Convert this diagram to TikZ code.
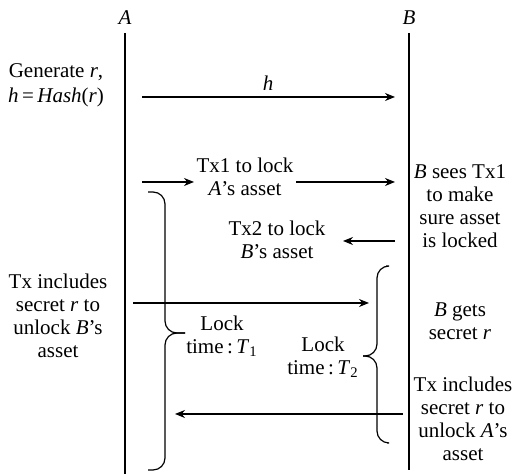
\documentclass[tikz,border=0pt]{standalone}
\usepackage{fontspec}
\setmainfont{Liberation Serif}
\usetikzlibrary{arrows.meta}

\begin{document}
\begin{tikzpicture}[x=0.5pt, y=-0.5pt, line width=0.6pt,
    msg/.style={-{Stealth[length=5pt, width=4pt]}},
    lbl/.style={align=center, inner sep=1pt, font=\fontsize{10.5}{11.5}\selectfont}]
    \useasboundingbox (0,0) rectangle (521,474);

    % Parties and lifelines
    \node[lbl] (A) at (125,18) {\textit{A}};
    \node[lbl] (B) at (409,18) {\textit{B}};
    \coordinate (Atop) at (125,33);
    \coordinate (Btop) at (409,33);
    \coordinate (Aend) at (125,474);
    \coordinate (Bend) at (409,470);
    \draw (Atop) -- (Aend);
    \draw (Btop) -- (Bend);

    % Side notes
    \node[lbl] (gen) at (56,85) {Generate \textit{r},\\[1pt] \textit{h}\,=\,\textit{Hash}(\textit{r})};
    \node[lbl] (sees) at (460,206) {\textit{B} sees Tx1\\ to make\\ sure asset\\ is locked};
    \node[lbl] (txA) at (58,316) {Tx includes\\ secret \textit{r} to\\ unlock \textit{B}'s\\ asset};
    \node[lbl] (gets) at (460,321) {\textit{B} gets\\ secret \textit{r}};
    \node[lbl] (txB) at (463,419) {Tx includes\\ secret \textit{r} to\\ unlock \textit{A}'s\\ asset};

    % Message texts
    \node[lbl] (hlbl) at (268,83) {\textit{h}};
    \node[lbl] (tx1) at (245,177) {Tx1 to lock\\ \textit{A}'s asset};
    \node[lbl] (tx2) at (277,240) {Tx2 to lock\\ \textit{B}'s asset};
    \node[lbl] (lock1) at (222,336) {Lock\\ time\,:\,\textit{T}\textsubscript{1}};
    \node[lbl] (lock2) at (323,357) {Lock\\ time\,:\,\textit{T}\textsubscript{2}};

    % Ends of the messages
    \coordinate (a1) at (142,97);  \coordinate (b1) at (395,97);
    \coordinate (a2) at (142,182); \coordinate (b2) at (395,182);
    \coordinate (b3) at (395,241); \coordinate (m3) at (343,241);
    \coordinate (a4) at (133,303); \coordinate (b4) at (369,303);
    \coordinate (b5) at (403,414); \coordinate (a5) at (175,414);

    % Messages
    \draw[msg] (a1) -- (b1);
    \draw[msg] (a2) -- (a2 -| tx1.west);
    \draw[msg] (b2 -| tx1.east) -- (b2);
    \draw[msg] (b3) -- (m3);
    \draw[msg] (a4) -- (b4);
    \draw[msg] (b5) -- (a5);

    % Lock time braces
    \draw[rounded corners=6pt] (148,192) -- (165,192) -- (165,333) -- (185,333);
    \draw[rounded corners=6pt] (185,333) -- (165,333) -- (165,470) -- (148,470);
    \draw[rounded corners=6pt] (386,266) -- (377,266) -- (377,356) -- (363,356);
    \draw[rounded corners=6pt] (363,356) -- (377,356) -- (377,443) -- (387,443);
\end{tikzpicture}
\end{document}
